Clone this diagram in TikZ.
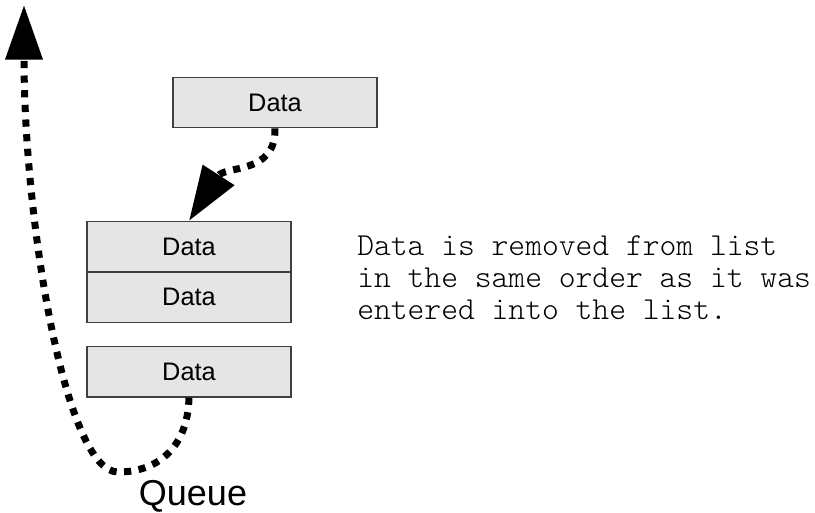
\documentclass[tikz,border=0pt]{standalone}
\usepackage{fontspec}
\setmainfont{Liberation Sans}
\newfontfamily\monofont{Latin Modern Mono Light}
\usetikzlibrary{arrows.meta}

\begin{document}
\begin{tikzpicture}[x=0.75pt,y=-0.75pt,
  databox/.style={draw=black!75, fill=black!10, line width=0.9pt,
    minimum width=153pt, minimum height=37.9pt, inner sep=0pt,
    font=\fontsize{19}{22}\selectfont},
  flow/.style={line width=5.25pt, dash pattern=on 5.4pt off 5.6pt,
    -{Triangle[length=41pt,width=27pt]}},
  note/.style={anchor=base west, inner sep=0pt,
    font=\monofont\fontsize{24}{26}\selectfont}]
\useasboundingbox (0,0) rectangle (815,512);

% boxes
\node[databox] (top) at (275,102.5) {Data};
\node[databox] (q1) at (189,246.75) {Data};
\node[databox] (q2) at (189,297.25) {Data};
\node[databox] (q3) at (189,371.75) {Data};

% labels
\node[anchor=base, inner sep=0pt, font=\fontsize{27}{30}\selectfont] (label) at (193,505) {Queue};
\node[note] (l1) at (357,255) {Data is removed from list};
\node[note] (l2) at (357,287) {in the same order as it was};
\node[note] (l3) at (357,319) {entered into the list.};

% connectors
\coordinate (turn) at (118,472);
\coordinate (exit) at (24,5);
\draw[flow] (q3.south) .. controls (188,445) and (160,472) .. (turn)
  .. controls (65,472) and (24,220) .. (exit);
\draw[flow] (top.south) .. controls (276,175) and (225,165) .. (q1.north);
\end{tikzpicture}
\end{document}
